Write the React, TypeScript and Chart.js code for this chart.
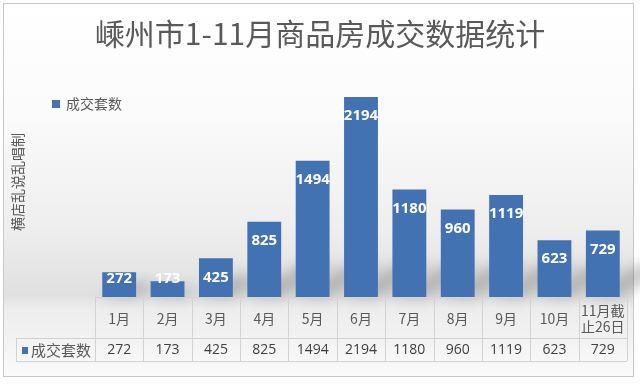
import React, { useEffect, useRef } from 'react';
import { Chart, registerables } from 'chart.js';

Chart.register(...registerables);

const titleText = '嵊州市1-11月商品房成交数据统计';
const yAxisTitle = '横店乱说乱唱制';
const seriesName = '成交套数';
const categories: (string | string[])[] = ['1月', '2月', '3月', '4月', '5月', '6月', '7月', '8月', '9月', '10月', ['11月截', '止26日']];
const values = [272, 173, 425, 825, 1494, 2194, 1180, 960, 1119, 623, 729];
const yMin = 0;
const yMax = 2500;

const BAR = '#4272b2';
const CJK = "'Noto Sans CJK SC', 'Noto Sans', sans-serif";

const decor = {
  id: 'decor',
  beforeDraw(chart: any) {
    const ctx = chart.ctx as CanvasRenderingContext2D;
    const { width, height } = chart;
    ctx.save();
    ctx.fillStyle = '#ffffff';
    ctx.fillRect(0, 0, width, height);
    const g = ctx.createLinearGradient(0, 3, 0, 377);
    g.addColorStop(0, '#ffffff');
    g.addColorStop(0.3, '#fbfbfb');
    g.addColorStop(0.6, '#eeeeee');
    g.addColorStop(0.78, '#e0e0e0');
    g.addColorStop(0.82, '#ededed');
    g.addColorStop(1, '#fafafa');
    ctx.fillStyle = g;
    ctx.fillRect(3.5, 3.5, 630, 373);
    ctx.strokeStyle = '#c8c8c8';
    ctx.lineWidth = 1;
    ctx.strokeRect(3.5, 3.5, 630, 373);
    const meta = chart.getDatasetMeta(0);
    const base = chart.scales.y.getPixelForValue(0);
    ctx.filter = 'blur(7px)';
    ctx.fillStyle = 'rgba(0,0,0,0.22)';
    meta.data.forEach((bar: any) => {
      const h = Math.min(base - bar.y, 60);
      const w = bar.width;
      ctx.beginPath();
      ctx.moveTo(bar.x - w / 2, base);
      ctx.lineTo(bar.x + w / 2, base);
      ctx.lineTo(bar.x + w / 2 + h * 0.9, base - h * 0.55);
      ctx.lineTo(bar.x - w / 2 + h * 0.9, base - h * 0.55);
      ctx.closePath();
      ctx.fill();
    });
    ctx.filter = 'none';
    ctx.restore();
  },
  afterDatasetsDraw(chart: any) {
    const ctx = chart.ctx as CanvasRenderingContext2D;
    const meta = chart.getDatasetMeta(0);
    const base = chart.scales.y.getPixelForValue(0);
    ctx.save();
    ctx.fillStyle = '#ffffff';
    ctx.font = "bold 15px 'Open Sans', sans-serif";
    ctx.textAlign = 'center';
    ctx.textBaseline = 'middle';
    meta.data.forEach((bar: any, i: number) => {
      const y = Math.min(bar.y + 19, base - 18);
      ctx.fillText(String(values[i]), bar.x, y);
    });
    ctx.restore();
  },
  afterDraw(chart: any) {
    const ctx = chart.ctx as CanvasRenderingContext2D;
    const area = chart.chartArea;
    const xs = chart.scales.x;
    const n = categories.length;
    const colW = (area.right - area.left) / n;
    ctx.save();
    ctx.fillStyle = '#595959';
    ctx.font = `30px ${CJK}`;
    ctx.textAlign = 'center';
    ctx.textBaseline = 'middle';
    ctx.fillText(titleText, 320, 34);
    ctx.fillStyle = BAR;
    ctx.fillRect(52, 100, 8, 8);
    ctx.fillStyle = '#595959';
    ctx.font = `14px ${CJK}`;
    ctx.textAlign = 'left';
    ctx.fillText(seriesName, 66, 104);
    ctx.save();
    ctx.translate(18, 182);
    ctx.rotate(-Math.PI / 2);
    ctx.textAlign = 'center';
    ctx.font = `14px ${CJK}`;
    ctx.fillStyle = '#595959';
    ctx.fillText(yAxisTitle, 0, 0);
    ctx.restore();
    const y0 = area.bottom;
    const y1 = 338;
    const y2 = 361;
    const keyLeft = 16;
    ctx.strokeStyle = '#d2d2d2';
    ctx.lineWidth = 1;
    ctx.beginPath();
    ctx.moveTo(area.left, y0 + 0.5);
    ctx.lineTo(area.right, y0 + 0.5);
    ctx.moveTo(keyLeft, y1 + 0.5);
    ctx.lineTo(area.right, y1 + 0.5);
    ctx.moveTo(keyLeft, y2 + 0.5);
    ctx.lineTo(area.right, y2 + 0.5);
    for (let i = 0; i <= n; i++) {
      const x = Math.round(area.left + i * colW) + 0.5;
      ctx.moveTo(x, y0);
      ctx.lineTo(x, y2);
    }
    ctx.moveTo(keyLeft + 0.5, y1);
    ctx.lineTo(keyLeft + 0.5, y2);
    ctx.stroke();
    ctx.textAlign = 'center';
    ctx.textBaseline = 'middle';
    categories.forEach((c, i) => {
      const cx = xs.getPixelForValue(i);
      ctx.fillStyle = '#595959';
      ctx.font = `14px ${CJK}`;
      if (Array.isArray(c)) {
        ctx.fillText(c[0], cx, 311);
        ctx.fillText(c[1], cx, 327);
      } else {
        ctx.fillText(c, cx, 319);
      }
      ctx.fillStyle = '#404040';
      ctx.font = "14px 'Open Sans', sans-serif";
      ctx.fillText(String(values[i]), cx, 350);
    });
    ctx.fillStyle = BAR;
    ctx.fillRect(22, 347, 6, 7);
    ctx.fillStyle = '#595959';
    ctx.font = `15px ${CJK}`;
    ctx.textAlign = 'left';
    ctx.fillText(seriesName, 31, 350);
    ctx.restore();
  },
};

export default function App() {
  const ref = useRef<HTMLCanvasElement>(null);
  useEffect(() => {
    if (!ref.current) return;
    const chart = new Chart(ref.current, {
      type: 'bar',
      data: {
        labels: categories,
        datasets: [
          {
            label: seriesName,
            data: values,
            backgroundColor: BAR,
            barPercentage: 0.7,
            categoryPercentage: 1.0,
          },
        ],
      },
      options: {
        responsive: false,
        animation: false,
        layout: { padding: { left: 95, right: 13, top: 69, bottom: 87 } },
        scales: {
          x: { display: false },
          y: { display: false, min: yMin, max: yMax },
        },
        plugins: {
          legend: { display: false },
          title: { display: false },
          tooltip: { enabled: false },
        },
      },
      plugins: [decor],
    });
    return () => chart.destroy();
  }, []);
  return (
    <div style={{ position: 'fixed', left: 0, top: 0, width: 640, height: 384 }}>
      <canvas ref={ref} width={640} height={384} style={{ width: 640, height: 384 }} />
    </div>
  );
}
